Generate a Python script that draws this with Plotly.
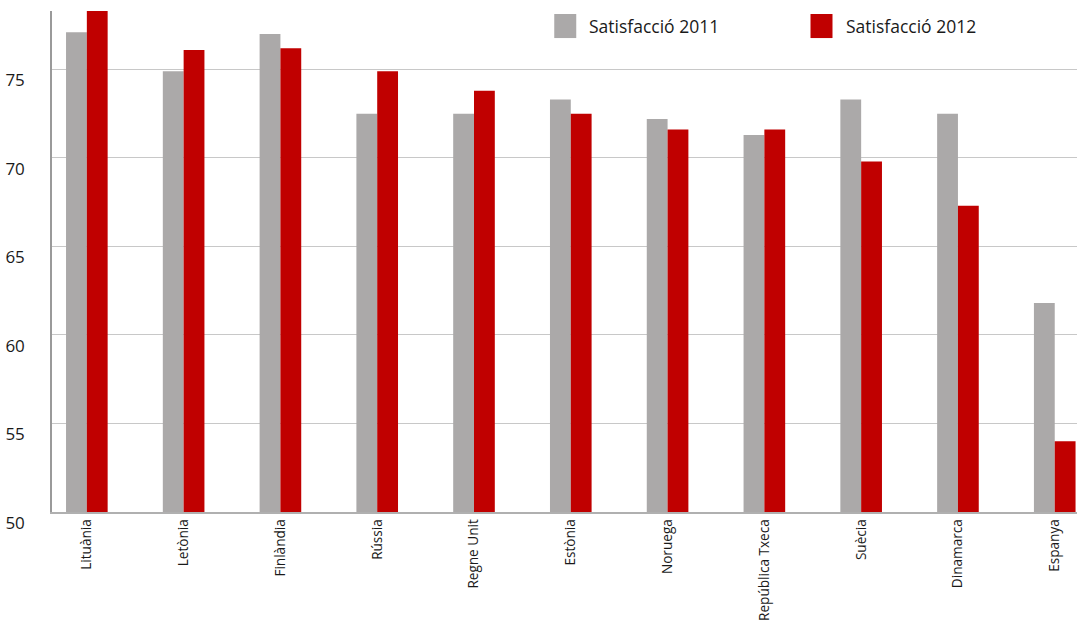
import plotly.graph_objects as go

# Life-satisfaction index by country, 2011 vs 2012
countries = ["Lituània", "Letònia", "Finlàndia", "Rússia", "Regne Unit", "Estònia",
             "Noruega", "República Txeca", "Suècia", "Dinamarca", "Espanya"]
sat_2011 = [77.1, 74.9, 77.0, 72.5, 72.5, 73.3, 72.2, 71.3, 73.3, 72.5, 61.8]
sat_2012 = [78.3, 76.1, 76.2, 74.9, 73.8, 72.5, 71.6, 71.6, 69.8, 67.3, 54.0]
series_names = ["Satisfacció 2011", "Satisfacció 2012"]
series_colors = ["#aba9a9", "#c00000"]
y_ticks = [50, 55, 60, 65, 70, 75]

FONT = "Open Sans"
TEXT = "#1a1a1a"

fig = go.Figure()
for name, vals, col in zip(series_names, [sat_2011, sat_2012], series_colors):
    fig.add_trace(go.Bar(
        x=countries, y=vals, name=name, marker_color=col,
        marker_line_width=0, showlegend=False,
    ))

# Hand-built legend with large colour squares
legend_x = [0.49, 0.74]
for i, (name, col) in enumerate(zip(series_names, series_colors)):
    x0 = legend_x[i]
    fig.add_shape(type="rect", xref="paper", yref="paper",
                  x0=x0, x1=x0 + 22 / 1025, y0=0.946, y1=0.994,
                  fillcolor=col, line_width=0)
    fig.add_annotation(text=name, xref="paper", yref="paper",
                       x=x0 + 33 / 1025, y=0.97, xanchor="left", yanchor="middle",
                       showarrow=False, font=dict(family=FONT, size=17.5, color=TEXT))

fig.update_layout(
    width=1077, height=626,
    margin=dict(l=52, r=0, t=11, b=114),
    paper_bgcolor="white", plot_bgcolor="white",
    barmode="group", bargap=0.57, bargroupgap=0,
    font=dict(family=FONT, color=TEXT),
)
fig.update_xaxes(
    type="category", range=[-0.36, 10.23], automargin=False,
    tickangle=-90, tickfont=dict(family=FONT, size=13.6, color=TEXT),
    ticklabelstandoff=0,
    showline=True, linecolor="#b0b0b0", linewidth=1.5,
    showgrid=False, ticks="",
)
fig.update_yaxes(
    range=[50, 78.3], tickvals=y_ticks, automargin=False,
    tickfont=dict(family=FONT, size=17, color=TEXT),
    ticklabelshift=11, ticklabelstandoff=22,
    showline=True, linecolor="#9a9a9a", linewidth=1.5,
    showgrid=True, gridcolor="#c8c8c8", gridwidth=1,
    zeroline=False, ticks="",
)

fig.write_html("out.html")
